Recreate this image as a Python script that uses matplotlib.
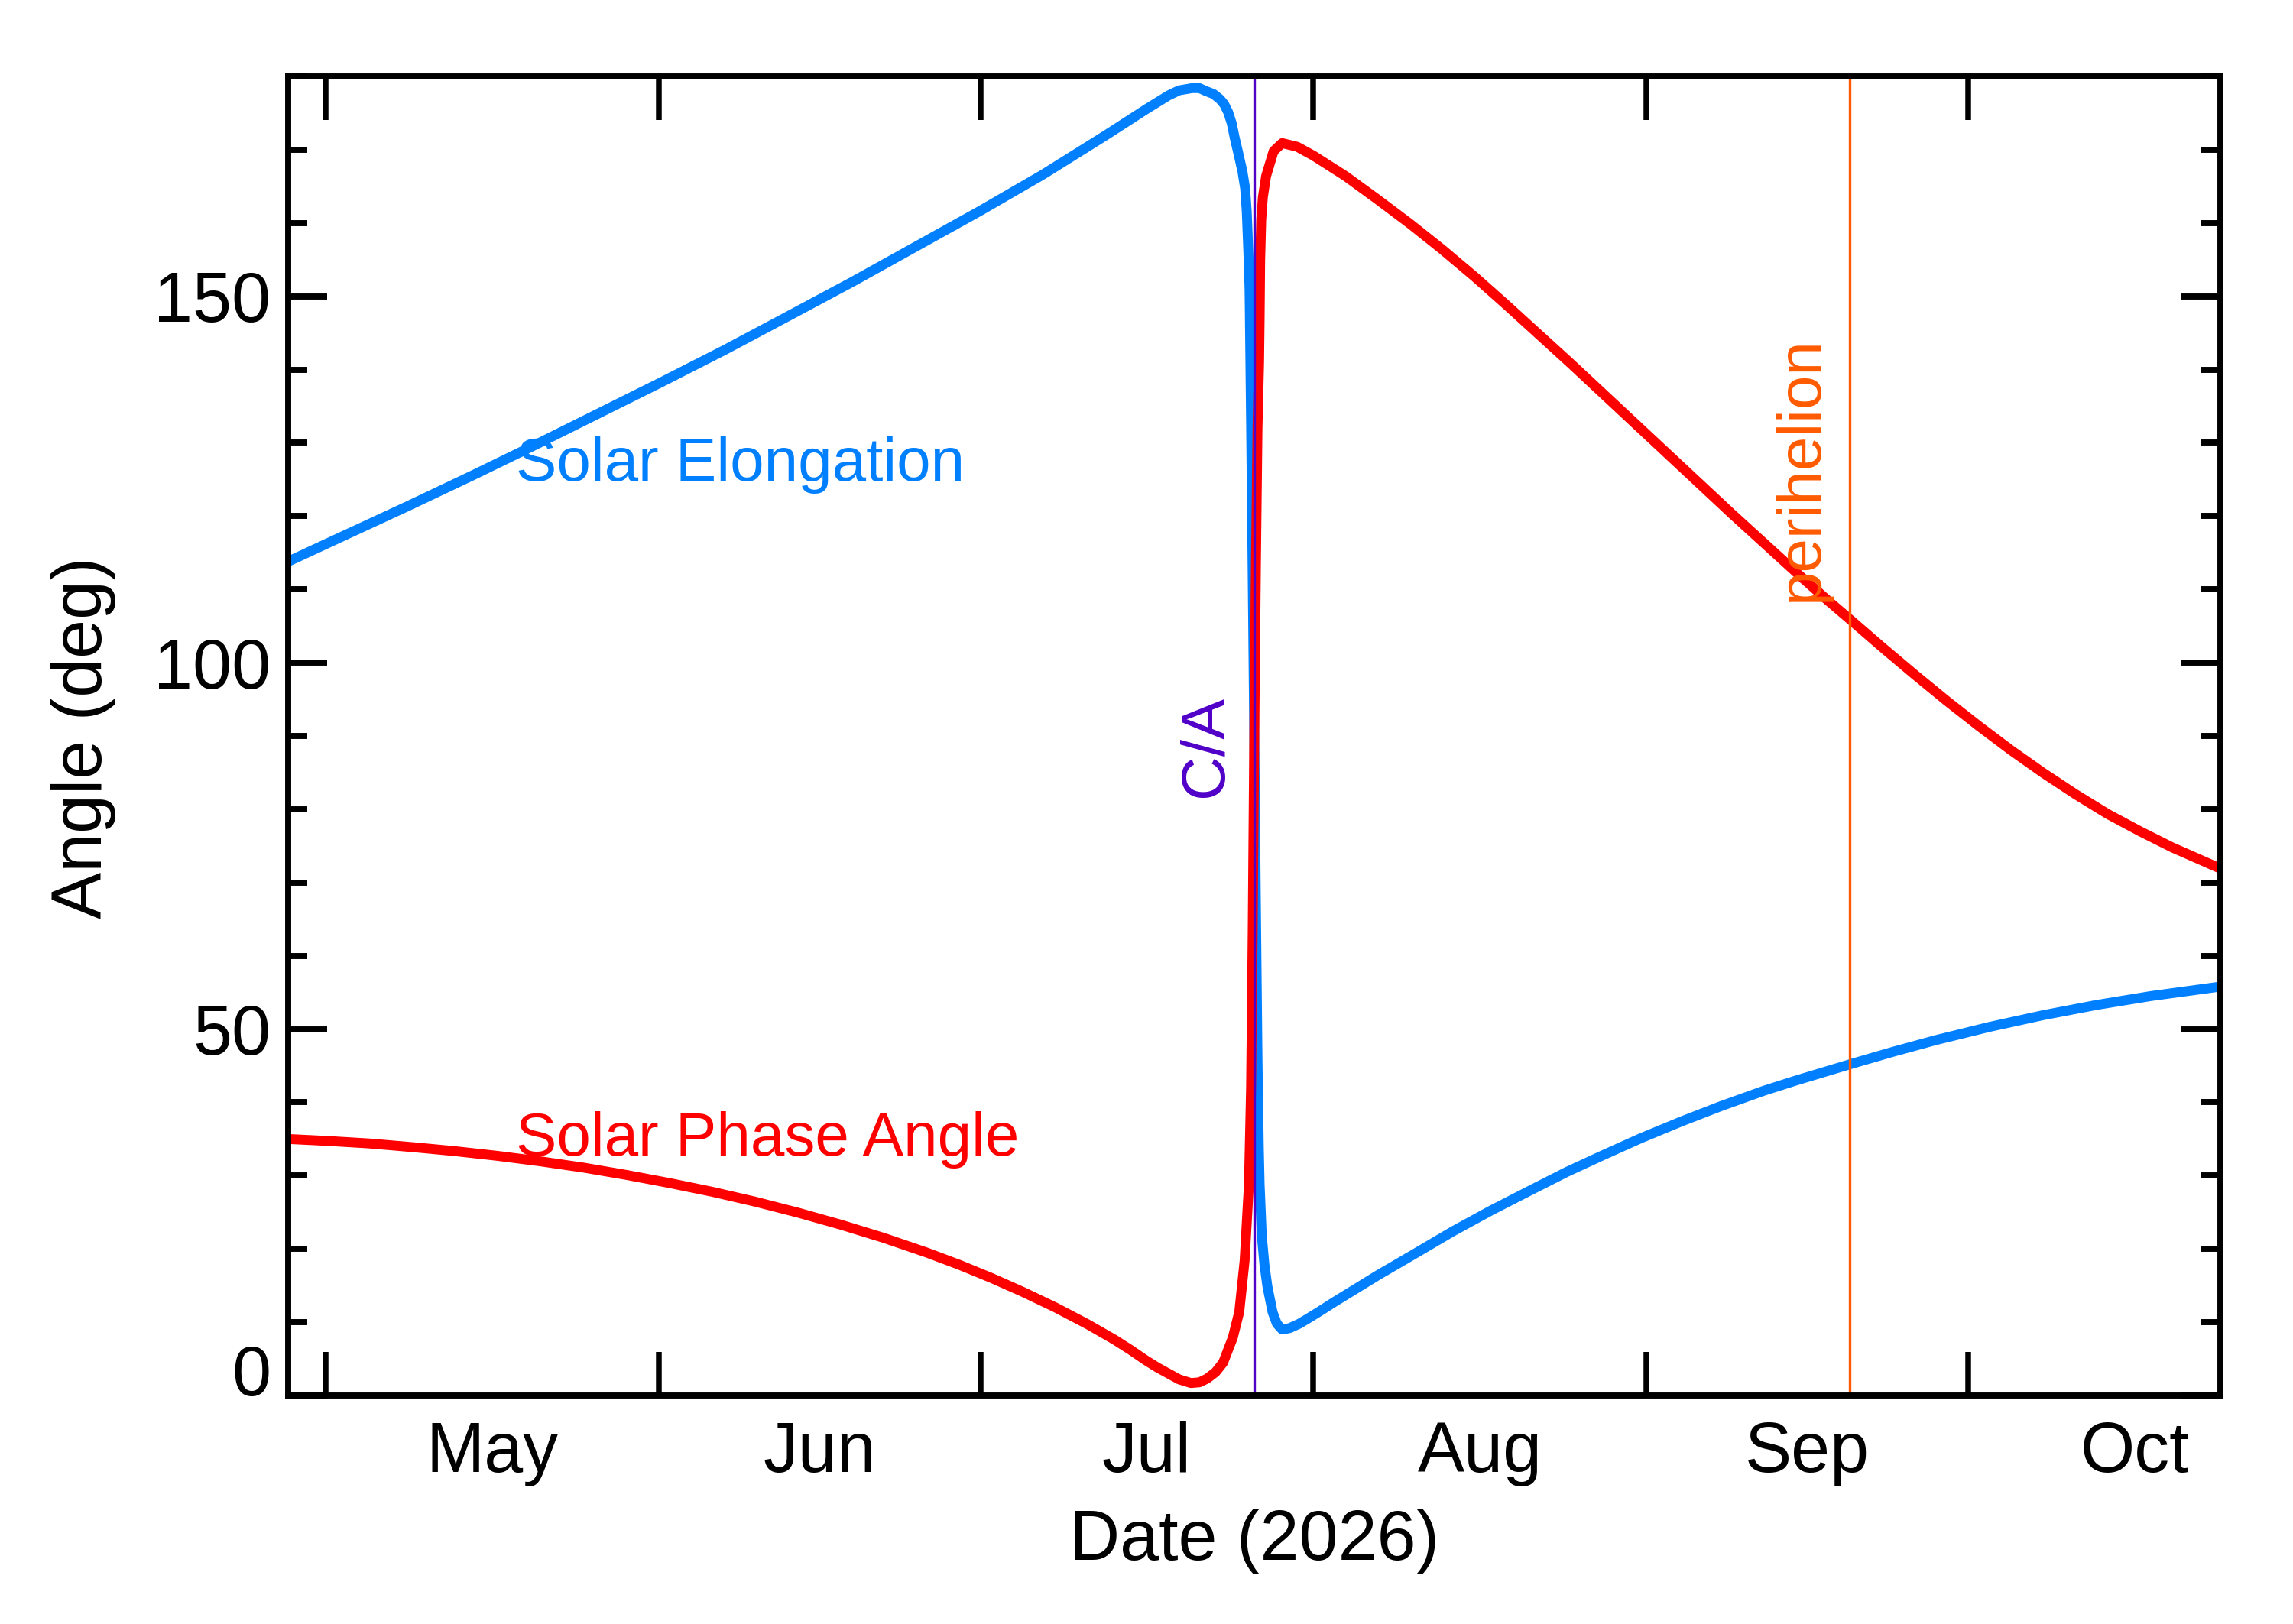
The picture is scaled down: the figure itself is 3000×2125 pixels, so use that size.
import numpy as np
import matplotlib
matplotlib.use('Agg')
import matplotlib.pyplot as plt
import matplotlib.dates as mdates
from matplotlib.ticker import MultipleLocator, NullFormatter, FixedLocator, FixedFormatter

plt.rcParams['font.family'] = ['Liberation Sans', 'DejaVu Sans']

# days counted from 2026-05-01 00:00
elong_days = [-3.5, 1.8, 7.7, 13.6, 19.5, 25.4, 31.3, 37.2, 43.1, 49.1, 55.0, 60.9,
              66.8, 72.7, 76.4, 78.5, 79.5, 80.7, 81.4, 82.0, 82.7, 83.3, 83.7, 84.07,
              84.4, 84.68, 85.0, 85.4, 85.65, 85.8, 85.9, 86.0, 86.06, 86.2, 86.35,
              86.5, 86.65, 86.8, 86.92, 87.0, 87.2, 87.45, 87.72, 88.2, 88.6, 89.1,
              89.8, 90.7, 91.5, 92.5, 94.0, 96.0, 98.0, 101.4, 105.0, 108.5, 112.1,
              115.6, 119.0, 122.5, 126.3, 130.0, 134.0, 137.0, 142.0, 146.0, 150.0,
              155.0, 160.0, 165.0, 170.0, 176.5]
elong_vals = [113.8, 117.4, 121.4, 125.5, 129.7, 134.0, 138.3, 142.7, 147.3, 152.0, 156.8, 161.6,
              166.6, 172.0, 175.5, 177.4, 178.1, 178.4, 178.4, 178.0, 177.6, 176.9, 176.2, 175.1,
              173.6, 171.6, 169.6, 167.0, 164.7, 161.5, 157.8, 154.0, 150.8, 133.0, 112.0,
              90.0, 67.0, 46.0, 34.0, 28.8, 21.8, 17.8, 14.9, 11.4, 9.8, 9.0,
              9.2, 9.8, 10.5, 11.4, 12.8, 14.6, 16.4, 19.3, 22.4, 25.2, 27.9,
              30.5, 32.8, 35.1, 37.4, 39.5, 41.6, 43.0, 45.2, 46.9, 48.5,
              50.3, 51.9, 53.3, 54.5, 55.8]

phase_days = [-3.5, 0.0, 4.0, 8.0, 12.0, 16.0, 20.0, 24.0, 28.0, 32.0, 36.0, 40.0,
              44.0, 48.0, 52.0, 56.0, 59.0, 62.0, 65.0, 68.0, 71.0, 73.5, 75.0, 76.4,
              77.5, 78.5, 79.5, 80.6, 81.4, 82.1, 82.9, 83.6, 84.5, 85.1, 85.6, 86.0,
              86.2, 86.35, 86.5, 86.65, 86.8, 86.95, 87.0, 87.05, 87.15, 87.3, 87.6,
              88.3, 89.1, 90.5, 92.0, 95.0, 98.0, 101.0, 104.0, 107.0, 110.0, 113.0,
              116.0, 119.0, 122.0, 125.0, 128.0, 131.0, 134.0, 137.0, 140.0, 142.0,
              145.0, 148.0, 151.0, 154.0, 157.0, 160.0, 163.0, 166.0, 169.0, 172.0, 176.5]
phase_vals = [35.0, 34.75, 34.4, 33.9, 33.35, 32.7, 31.95, 31.1, 30.1, 29.0, 27.8, 26.45,
              24.95, 23.3, 21.5, 19.5, 17.85, 16.05, 14.1, 12.0, 9.7, 7.6, 6.2, 4.8,
              3.8, 3.0, 2.2, 1.7, 1.8, 2.3, 3.2, 4.5, 7.9, 11.4, 18.4, 28.8,
              42.0, 63.0, 90.0, 113.0, 132.0, 141.0, 147.0, 155.0, 160.5, 163.5, 166.4,
              169.8, 170.9, 170.4, 169.2, 166.4, 163.2, 159.9, 156.4, 152.7, 148.8, 144.8,
              140.8, 136.7, 132.6, 128.5, 124.4, 120.3, 116.3, 112.3, 108.4, 105.9,
              102.1, 98.4, 94.8, 91.35, 88.05, 84.95, 82.05, 79.35, 77.0, 74.8, 71.9]

ca_day = 86.5
peri_day = 142.0

month_names = ['May', 'Jun', 'Jul', 'Aug', 'Sep', 'Oct']
month_starts = ['2026-05-01', '2026-06-01', '2026-07-01', '2026-08-01',
                '2026-09-01', '2026-10-01', '2026-11-01']

start = np.datetime64('2026-05-01T00:00')


def to_num(days):
    d = start + np.round(np.asarray(days, dtype=float) * 1440).astype('timedelta64[m]')
    return mdates.date2num(d)


fig = plt.figure(figsize=(10, 2125 / 300), dpi=300)
ax = fig.add_axes([377 / 3000, 1 - 1826 / 2125, (2905 - 377) / 3000, (1826 - 100) / 2125])

ax.plot(to_num(elong_days), elong_vals, color='#0080ff', lw=3.1,
        solid_joinstyle='round', solid_capstyle='butt')
ax.plot(to_num(phase_days), phase_vals, color='#ff0000', lw=3.1,
        solid_joinstyle='round', solid_capstyle='butt')

ax.axvline(to_num(ca_day), color='#5000c8', lw=0.8)
ax.axvline(to_num(peri_day), color='#ff5a00', lw=0.8)

ax.text(to_num(17.7), 124.8, 'Solar Elongation', color='#0080ff', fontsize=19.2,
        ha='left', va='baseline')
ax.text(to_num(17.7), 32.7, 'Solar Phase Angle', color='#ff0000', fontsize=19.2,
        ha='left', va='baseline')
ax.text(to_num(83.5), 81.7, 'C/A', color='#5000c8', fontsize=19.2, rotation=90,
        rotation_mode='anchor', ha='left', va='baseline')
ax.text(to_num(139.0), 108.4, 'perihelion', color='#ff5a00', fontsize=19.2, rotation=90,
        rotation_mode='anchor', ha='left', va='baseline')

ax.set_xlim(to_num(ca_day - 90), to_num(ca_day + 90))
ax.set_ylim(0, 180)

ms = mdates.date2num(np.array(month_starts, dtype='datetime64[m]'))
mid = (ms[:-1] + ms[1:]) / 2
ax.xaxis.set_major_locator(FixedLocator(ms[:-1]))
ax.xaxis.set_major_formatter(NullFormatter())
ax.xaxis.set_minor_locator(FixedLocator(mid))
ax.xaxis.set_minor_formatter(FixedFormatter(month_names))
ax.tick_params(axis='x', which='major', direction='in', length=13.7, width=1.8,
               top=True, bottom=True)
ax.tick_params(axis='x', which='minor', length=0, labelsize=22, pad=8)

ax.set_yticks([0, 50, 100, 150])
ax.yaxis.set_minor_locator(MultipleLocator(10))
ax.tick_params(axis='y', which='major', direction='in', length=12.2, width=1.9,
               left=True, right=True, labelsize=22, pad=5.5)
ax.tick_params(axis='y', which='minor', direction='in', length=6, width=1.9,
               left=True, right=True)

for s in ax.spines.values():
    s.set_linewidth(1.9)

# bottom label sits on the axis line
ax.yaxis.get_major_ticks()[0].label1.set_va('baseline')

fig.text((377 + 2905) / 2 / 3000, 0.0395, 'Date (2026)', ha='center', va='baseline', fontsize=22)
fig.text(0.0506, 0.546, 'Angle (deg)', rotation=90, ha='right', va='center', fontsize=22)

fig.savefig('out.png', dpi=300)
